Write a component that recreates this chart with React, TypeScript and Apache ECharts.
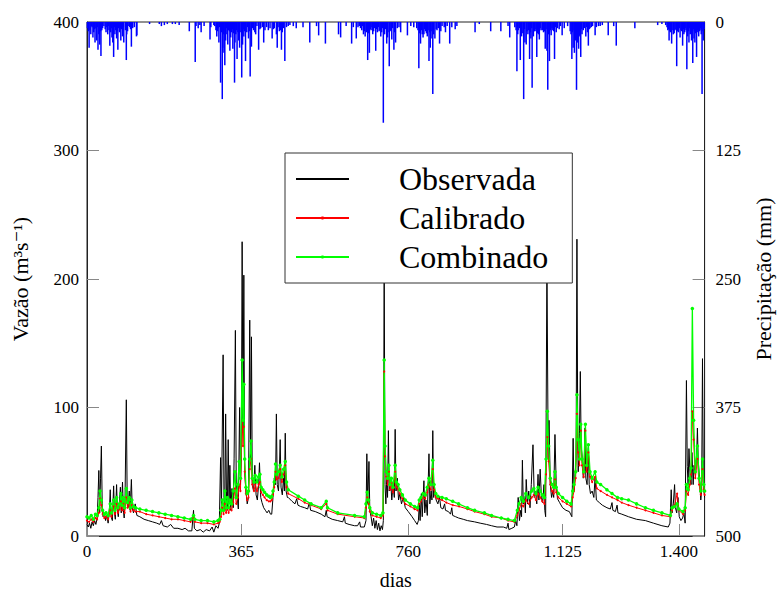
import React, { useEffect, useRef } from "react";
import * as echarts from "echarts";

// x ticks (days)
const X_TICKS = [0, 365, 760, 1125, 1400];
const X_MAX = 1461;

// Observed discharge [day, m3/s]
const OBSERVADA: [number, number][] = [
[0,9],[3,7],[6,10],[9,6],[12,11],[15,8],[18,12],[21,9],[24,14],[26,30],[28,51],[30,18],[32,45],[34,70],[36,25],[38,15],[41,18],[44,12],[47,16],[50,10],[53,20],[55,36],[57,15],[60,12],[63,39],[65,18],[67,13],[70,40],[72,20],[74,15],[77,28],[79,38],[81,18],[84,42],[86,20],[88,14],[90,30],[93,106],[95,30],[97,22],[100,35],[102,20],[105,44],[107,22],[110,18],[114,25],[118,16],[125,15],[135,13],[145,12],[155,11],[165,10],[172,9],[176,12],[180,8],[190,7],[198,9],[205,6],[215,6],[225,5],[232,6],[240,4],[248,4],[252,20],[254,6],[260,4],[268,5],[275,3],[282,5],[290,4],[296,7],[300,3],[305,8],[310,6],[313,10],[316,61],[318,20],[322,141],[324,30],[326,20],[328,95],[330,30],[332,20],[334,75],[336,25],[338,55],[340,20],[343,37],[346,22],[348,60],[351,160],[353,40],[356,28],[358,21],[361,100],[363,40],[365,60],[367,229],[369,80],[371,203],[373,50],[376,35],[379,25],[382,30],[385,168],[387,60],[389,155],[391,40],[394,35],[397,55],[400,32],[403,28],[406,40],[408,57],[411,30],[414,26],[418,22],[422,20],[426,18],[430,20],[434,17],[437,17],[440,30],[443,45],[446,40],[448,95],[450,40],[453,35],[455,50],[457,75],[459,38],[462,32],[465,45],[467,35],[469,80],[471,35],[474,30],[476,30],[485,27],[492,25],[496,29],[499,24],[505,23],[515,22],[522,21],[526,26],[529,20],[540,19],[554,17],[563,15],[566,20],[568,15],[580,13],[593,12],[605,11],[609,15],[611,10],[620,9],[633,8],[640,8],[645,11],[647,7],[656,7],[660,12],[662,64],[664,25],[667,58],[669,20],[672,15],[675,8],[678,14],[681,6],[684,12],[687,5],[690,10],[693,4],[696,8],[699,5],[701,12],[703,215],[705,40],[707,25],[709,45],[711,30],[713,82],[715,35],[718,45],[721,28],[724,40],[727,30],[729,83],[731,35],[734,45],[737,28],[740,33],[744,25],[748,30],[753,22],[760,19],[769,15],[775,12],[781,9],[784,12],[786,25],[788,12],[791,33],[793,15],[797,43],[799,18],[802,28],[805,16],[809,64],[811,25],[814,35],[816,28],[818,82],[820,30],[823,35],[826,28],[830,25],[834,30],[837,22],[842,21],[846,25],[848,20],[855,19],[860,17],[863,22],[865,16],[872,15],[879,14],[890,13],[900,12],[917,11],[930,10],[945,9],[957,8],[970,7],[985,7],[993,6],[996,10],[998,5],[1005,6],[1011,7],[1014,12],[1017,8],[1020,30],[1023,12],[1026,20],[1028,15],[1030,59],[1032,25],[1035,30],[1037,18],[1039,44],[1042,25],[1045,35],[1048,22],[1051,40],[1055,71],[1058,30],[1061,35],[1064,25],[1067,48],[1069,28],[1072,52],[1075,30],[1078,26],[1081,40],[1083,20],[1085,15],[1088,215],[1091,60],[1093,90],[1096,40],[1099,30],[1102,35],[1104,30],[1107,79],[1110,40],[1113,29],[1118,26],[1125,22],[1133,20],[1141,19],[1147,15],[1150,76],[1152,35],[1154,45],[1157,60],[1159,231],[1161,70],[1162,50],[1165,80],[1167,128],[1169,70],[1171,63],[1174,45],[1176,50],[1178,84],[1180,45],[1183,40],[1186,69],[1188,40],[1191,33],[1195,35],[1199,30],[1202,46],[1205,28],[1212,26],[1219,24],[1230,22],[1238,21],[1242,26],[1244,20],[1250,19],[1254,24],[1256,18],[1265,17],[1281,15],[1300,13],[1321,12],[1340,10],[1360,8],[1375,7],[1379,10],[1382,36],[1384,18],[1387,25],[1390,40],[1392,22],[1395,18],[1398,30],[1401,15],[1405,12],[1409,14],[1412,18],[1415,10],[1418,121],[1420,54],[1422,40],[1424,68],[1427,45],[1429,40],[1431,65],[1434,40],[1436,55],[1439,48],[1442,60],[1444,84],[1446,58],[1449,45],[1452,28],[1454,35],[1456,138],[1458,40],[1461,30]
];

// Calibrated model [day, m3/s]
const CALIBRADO: [number, number][] = [
[0,12],[5,11],[10,13],[15,11],[20,14],[24,13],[28,18],[31,29],[34,24],[37,17],[41,14],[45,15],[50,13],[55,20],[58,15],[63,23],[66,17],[70,25],[73,18],[77,21],[80,27],[83,20],[86,25],[89,18],[93,30],[96,22],[100,26],[103,19],[106,24],[110,20],[115,19],[125,19],[140,17],[155,16],[170,15],[185,14],[200,13],[215,13],[230,12],[245,11],[252,14],[255,11],[270,10],[285,10],[300,9],[310,10],[314,11],[317,15],[320,22],[323,17],[326,25],[329,18],[332,22],[335,18],[338,22],[342,20],[346,26],[350,37],[353,25],[357,30],[360,40],[363,35],[367,90],[369,70],[371,85],[373,50],[376,33],[379,28],[382,30],[385,52],[388,60],[391,40],[395,35],[398,40],[402,35],[406,40],[409,42],[412,34],[416,32],[420,30],[425,28],[430,27],[434,27],[437,28],[440,32],[443,38],[446,50],[449,44],[453,45],[457,52],[461,42],[465,48],[469,55],[472,38],[476,33],[500,29],[515,26],[530,24],[554,21],[566,25],[569,20],[593,17],[633,15],[656,14],[660,22],[663,30],[666,25],[669,19],[675,16],[685,15],[695,14],[700,16],[703,128],[705,62],[708,46],[711,40],[714,50],[717,36],[720,41],[724,34],[729,50],[732,38],[736,36],[740,33],[746,29],[753,25],[765,23],[775,21],[782,20],[786,25],[790,27],[795,30],[800,29],[805,34],[809,40],[813,36],[818,52],[821,36],[825,30],[830,29],[840,28],[850,26],[865,24],[880,23],[900,21],[917,19],[940,17],[957,15],[980,14],[996,12],[1011,11],[1018,16],[1022,20],[1027,25],[1032,23],[1038,28],[1045,25],[1052,30],[1057,32],[1062,28],[1067,33],[1072,30],[1077,27],[1082,25],[1086,48],[1089,77],[1092,58],[1096,40],[1100,35],[1104,33],[1107,44],[1110,34],[1115,30],[1125,27],[1135,25],[1145,23],[1149,30],[1152,35],[1156,45],[1159,95],[1162,65],[1165,55],[1168,82],[1171,55],[1175,46],[1179,82],[1182,50],[1186,65],[1190,46],[1195,42],[1202,46],[1206,37],[1215,35],[1230,32],[1242,30],[1255,28],[1265,26],[1281,24],[1300,22],[1321,20],[1340,18],[1360,16],[1380,15],[1384,20],[1390,24],[1396,33],[1400,20],[1410,17],[1415,20],[1418,35],[1422,32],[1426,40],[1429,48],[1432,97],[1435,75],[1439,45],[1444,60],[1448,40],[1452,32],[1456,52],[1459,36],[1461,32]
];

// Combined model [day, m3/s]
const COMBINADO: [number, number][] = [
[0,15],[5,14],[10,16],[15,13],[20,17],[24,16],[28,22],[31,35],[34,28],[37,20],[41,17],[45,18],[50,16],[55,25],[58,18],[63,28],[66,20],[70,30],[73,22],[77,25],[80,33],[83,24],[86,30],[89,22],[93,37],[96,26],[100,30],[103,22],[106,28],[110,23],[115,22],[125,21],[140,20],[155,19],[170,18],[185,17],[200,16],[215,15],[230,14],[245,13],[252,16],[255,13],[270,12],[285,12],[300,11],[310,12],[314,13],[317,20],[320,28],[323,20],[326,35],[329,22],[332,30],[335,22],[338,28],[342,25],[346,35],[350,50],[353,30],[357,40],[360,58],[363,45],[367,137],[369,90],[371,118],[373,60],[376,38],[379,33],[382,35],[385,60],[388,74],[391,45],[395,42],[398,47],[402,42],[406,46],[409,48],[412,38],[416,36],[420,34],[425,32],[430,31],[434,30],[437,31],[440,35],[443,42],[446,56],[449,48],[453,50],[457,55],[461,46],[465,52],[469,58],[472,42],[476,36],[500,31],[515,28],[530,25],[554,22],[566,27],[569,22],[593,18],[633,16],[656,15],[660,25],[663,34],[666,28],[669,22],[675,18],[685,17],[695,16],[700,18],[703,137],[705,70],[708,50],[711,45],[714,55],[717,40],[720,45],[724,38],[729,55],[732,42],[736,40],[740,36],[746,32],[753,28],[765,25],[775,23],[782,22],[786,28],[790,30],[795,33],[800,32],[805,38],[809,45],[813,40],[818,59],[821,40],[825,33],[830,31],[840,30],[850,29],[865,27],[879,25],[900,22],[917,20],[940,18],[957,16],[980,14],[996,13],[1011,12],[1018,20],[1022,25],[1027,30],[1032,27],[1038,33],[1045,30],[1052,35],[1057,37],[1062,33],[1067,38],[1072,35],[1077,32],[1082,30],[1086,60],[1089,97],[1092,70],[1096,45],[1100,40],[1104,38],[1107,50],[1110,38],[1115,33],[1125,30],[1135,27],[1145,25],[1149,35],[1152,40],[1156,50],[1159,110],[1162,75],[1165,60],[1168,87],[1171,60],[1175,50],[1179,87],[1182,55],[1186,71],[1190,50],[1195,45],[1202,50],[1206,42],[1215,40],[1230,36],[1242,33],[1255,30],[1265,29],[1281,28],[1300,25],[1321,22],[1340,20],[1360,18],[1380,16],[1384,22],[1390,23],[1396,25],[1400,21],[1410,19],[1415,22],[1418,40],[1422,36],[1426,45],[1429,53],[1432,177],[1435,90],[1439,50],[1444,70],[1448,45],[1452,35],[1456,60],[1459,40],[1461,35]
];

// Precipitation [day, mm]
const PRECIPITACAO: [number, number][] = [
[5,25],[7,8],[9,12],[12,5],[14,15],[16,10],[19,20],[21,6],[23,18],[26,27],[28,12],[30,22],[33,33],[35,8],[40,4],[45,10],[47,5],[49,12],[52,8],[54,23],[56,10],[59,15],[61,20],[63,34],[66,12],[68,8],[70,16],[73,27],[75,6],[77,10],[80,18],[82,7],[84,14],[87,20],[93,37],[94,12],[96,9],[101,5],[105,24],[108,6],[117,14],[118,13],[148,2],[171,2],[176,4],[183,3],[190,2],[202,2],[209,2],[218,3],[242,9],[256,39],[258,4],[263,6],[267,3],[270,10],[277,4],[291,17],[293,5],[300,3],[305,8],[307,14],[310,6],[312,20],[316,59],[320,75],[321,25],[324,30],[326,42],[328,18],[331,12],[333,22],[335,8],[338,28],[340,15],[342,10],[345,26],[349,59],[350,20],[352,12],[355,36],[357,10],[359,18],[361,25],[366,54],[368,22],[371,14],[375,38],[378,10],[382,16],[386,53],[389,24],[394,8],[399,12],[406,27],[411,6],[418,20],[425,5],[429,8],[438,16],[443,6],[448,12],[450,25],[455,9],[460,27],[462,10],[468,38],[472,5],[476,4],
[480,3],[488,4],[495,6],[511,5],[527,20],[543,4],[548,13],[564,21],[595,12],[600,15],[613,4],[626,21],[630,5],[637,16],[644,4],[650,8],[654,12],[658,14],[661,10],[664,37],[668,30],[672,8],[676,12],[680,6],[683,28],[687,10],[691,9],[695,14],[699,6],[701,98],[704,12],[709,21],[712,10],[715,43],[719,8],[721,17],[726,27],[730,20],[734,6],[742,10],[758,13],[766,4],[773,5],[783,8],[785,45],[789,21],[793,12],[797,12],[801,9],[805,14],[809,38],[812,25],[816,16],[818,70],[823,16],[828,8],[834,21],[840,4],[848,10],[858,21],[863,5],[871,7],[875,4],[918,10],[928,2],[955,9],
[979,9],[996,4],[1000,15],[1017,48],[1020,8],[1025,37],[1028,14],[1033,75],[1036,20],[1039,22],[1043,12],[1047,36],[1050,16],[1053,64],[1056,14],[1060,9],[1064,34],[1068,12],[1070,17],[1074,8],[1080,10],[1084,26],[1088,28],[1090,66],[1094,38],[1098,13],[1102,8],[1106,36],[1110,10],[1117,7],[1124,13],[1129,6],[1137,4],[1147,36],[1150,25],[1153,30],[1155,18],[1158,66],[1160,20],[1163,26],[1166,14],[1168,34],[1171,12],[1174,8],[1180,14],[1184,10],[1186,23],[1190,6],[1196,4],[1202,13],[1210,4],[1219,3],[1233,13],[1246,4],[1252,23],[1296,6],[1350,3],[1360,2],[1369,3],[1374,8],[1377,18],[1380,10],[1383,21],[1387,12],[1391,8],[1395,43],[1399,10],[1403,15],[1407,9],[1409,23],[1412,12],[1415,6],[1419,46],[1421,14],[1424,20],[1427,12],[1430,18],[1433,40],[1436,16],[1438,20],[1442,34],[1445,10],[1447,14],[1450,8],[1453,12],[1455,70],[1458,18],
[1,6],[3,9],[11,4],[18,7],[25,5],[32,9],[37,6],[43,7],[51,4],[58,6],[65,5],[72,9],[79,6],[86,5],[91,8],[99,4],[103,7],[112,5],
[302,4],[309,9],[314,5],[318,10],[323,12],[330,6],[337,9],[344,7],[347,11],[354,8],[360,6],[364,10],[370,7],[373,9],[380,5],[384,9],[392,6],[397,10],[402,4],[409,7],[415,5],[421,8],[433,6],[441,7],[452,5],[458,8],[465,6],
[641,5],[647,6],[652,4],[656,9],[663,6],[666,11],[670,7],[674,5],[678,9],[685,7],[689,5],[693,8],[697,10],[703,9],[706,7],[711,15],[717,9],[723,6],[728,10],[738,5],[780,6],[787,11],[791,8],[795,15],[799,7],[803,11],[807,8],[811,10],[814,9],[820,12],[826,7],[831,6],[837,9],[845,5],[852,4],
[1012,5],[1015,8],[1019,12],[1023,6],[1027,9],[1031,11],[1035,7],[1041,9],[1045,8],[1049,10],[1052,6],[1058,9],[1062,7],[1066,11],[1072,6],[1077,8],[1082,9],[1086,7],[1092,12],[1096,8],[1100,6],[1104,9],[1108,5],[1113,6],[1120,4],[1143,9],[1145,12],[1148,10],[1152,8],[1157,11],[1162,9],[1165,13],[1170,7],[1177,6],[1182,5],[1188,7],[1193,5],[1205,5],[1214,4],
[1372,5],[1376,7],[1379,9],[1382,6],[1386,8],[1389,11],[1393,7],[1397,9],[1401,6],[1405,8],[1411,7],[1414,10],[1417,8],[1423,9],[1426,6],[1429,10],[1432,8],[1435,7],[1437,9],[1440,11],[1444,8],[1449,9],[1452,6],[1457,9],[1460,7]
];

const LEFT_TICKS = { min: 0, max: 400, interval: 100 };
const RIGHT_TICKS = { min: 0, max: 500, interval: 125 };

const FONT = "'Liberation Serif', 'DejaVu Serif', serif";

function fmtDay(v: number): string {
  if (v >= 1000) {
    const r = String(v % 1000).padStart(3, "0");
    return `${Math.floor(v / 1000)}.${r}`;
  }
  return String(v);
}

export default function App() {
  const ref = useRef<HTMLDivElement>(null);
  useEffect(() => {
    if (!ref.current) return;
    const chart = echarts.init(ref.current, undefined, { renderer: "svg" });
    const tickStyle = { inside: true, length: 12, lineStyle: { color: "#888", width: 1 } };
    chart.setOption({
      animation: false,
      backgroundColor: "#fff",
      textStyle: { fontFamily: FONT, color: "#000" },
      grid: {
        left: 87, right: 72, top: 22, bottom: 56,
        show: true, borderColor: "#222", borderWidth: 1, backgroundColor: "transparent",
      },
      legend: {
        data: [
          { name: "Observada", itemStyle: { opacity: 0 } },
          { name: "Calibrado" },
          { name: "Combinado" },
        ],
        orient: "vertical",
        left: 285,
        top: 153,
        backgroundColor: "#fff",
        borderColor: "#333",
        borderWidth: 1,
        borderRadius: 0,
        padding: [10, 24, 10, 10],
        itemWidth: 53,
        itemHeight: 4,
        itemGap: 7,
        textStyle: { fontFamily: FONT, fontSize: 32, color: "#000", padding: [0, 0, 0, 45], lineHeight: 32 },
      },
      xAxis: {
        type: "value",
        min: 0,
        max: X_MAX,
        name: "dias",
        nameLocation: "middle",
        nameGap: 34,
        nameTextStyle: { fontFamily: FONT, fontSize: 20, color: "#000" },
        axisLine: { show: true, lineStyle: { color: "#222" } },
        axisTick: { ...tickStyle, customValues: X_TICKS },
        axisLabel: { customValues: X_TICKS, formatter: (v: number) => fmtDay(v), fontFamily: FONT, fontSize: 17, color: "#000", margin: 7 },
        splitLine: { show: false },
      },
      yAxis: [
        {
          type: "value",
          position: "left",
          ...LEFT_TICKS,
          name: "Vazão (m³s⁻¹)",
          nameLocation: "middle",
          nameRotate: 90,
          nameGap: 56,
          nameTextStyle: { fontFamily: FONT, fontSize: 22, color: "#000" },
          axisLine: { show: true, lineStyle: { color: "#222" } },
          axisTick: tickStyle,
          axisLabel: { fontFamily: FONT, fontSize: 17, color: "#000", margin: 8 },
          splitLine: { show: false },
        },
        {
          type: "value",
          position: "right",
          inverse: true,
          ...RIGHT_TICKS,
          name: "Precipitação (mm)",
          nameLocation: "middle",
          nameRotate: 90,
          nameGap: 47,
          nameTextStyle: { fontFamily: FONT, fontSize: 22, color: "#000" },
          axisLine: { show: true, lineStyle: { color: "#222" } },
          axisTick: tickStyle,
          axisLabel: { fontFamily: FONT, fontSize: 17, color: "#000", margin: 11 },
          splitLine: { show: false },
        },
      ],
      series: [
        {
          name: "Precipitação",
          type: "bar",
          yAxisIndex: 1,
          data: PRECIPITACAO,
          barWidth: 1.5,
          itemStyle: { color: "#0000ff" },
        },
        {
          name: "Observada",
          type: "line",
          data: OBSERVADA,
          showSymbol: false,
          symbol: "none",
          lineStyle: { color: "#000", width: 1 },
          itemStyle: { color: "#000" },
        },
        {
          name: "Calibrado",
          type: "line",
          data: CALIBRADO,
          symbol: "circle",
          symbolSize: 2,
          lineStyle: { color: "#ff0000", width: 1 },
          itemStyle: { color: "#ff0000" },
        },
        {
          name: "Combinado",
          type: "line",
          data: COMBINADO,
          symbol: "circle",
          symbolSize: 3.5,
          lineStyle: { color: "#00ff00", width: 1.3 },
          itemStyle: { color: "#00ff00" },
        },
      ],
    });
    return () => chart.dispose();
  }, []);
  return (
    <div
      ref={ref}
      style={{ position: "absolute", left: 0, top: 0, width: 782, height: 595 }}
    />
  );
}
